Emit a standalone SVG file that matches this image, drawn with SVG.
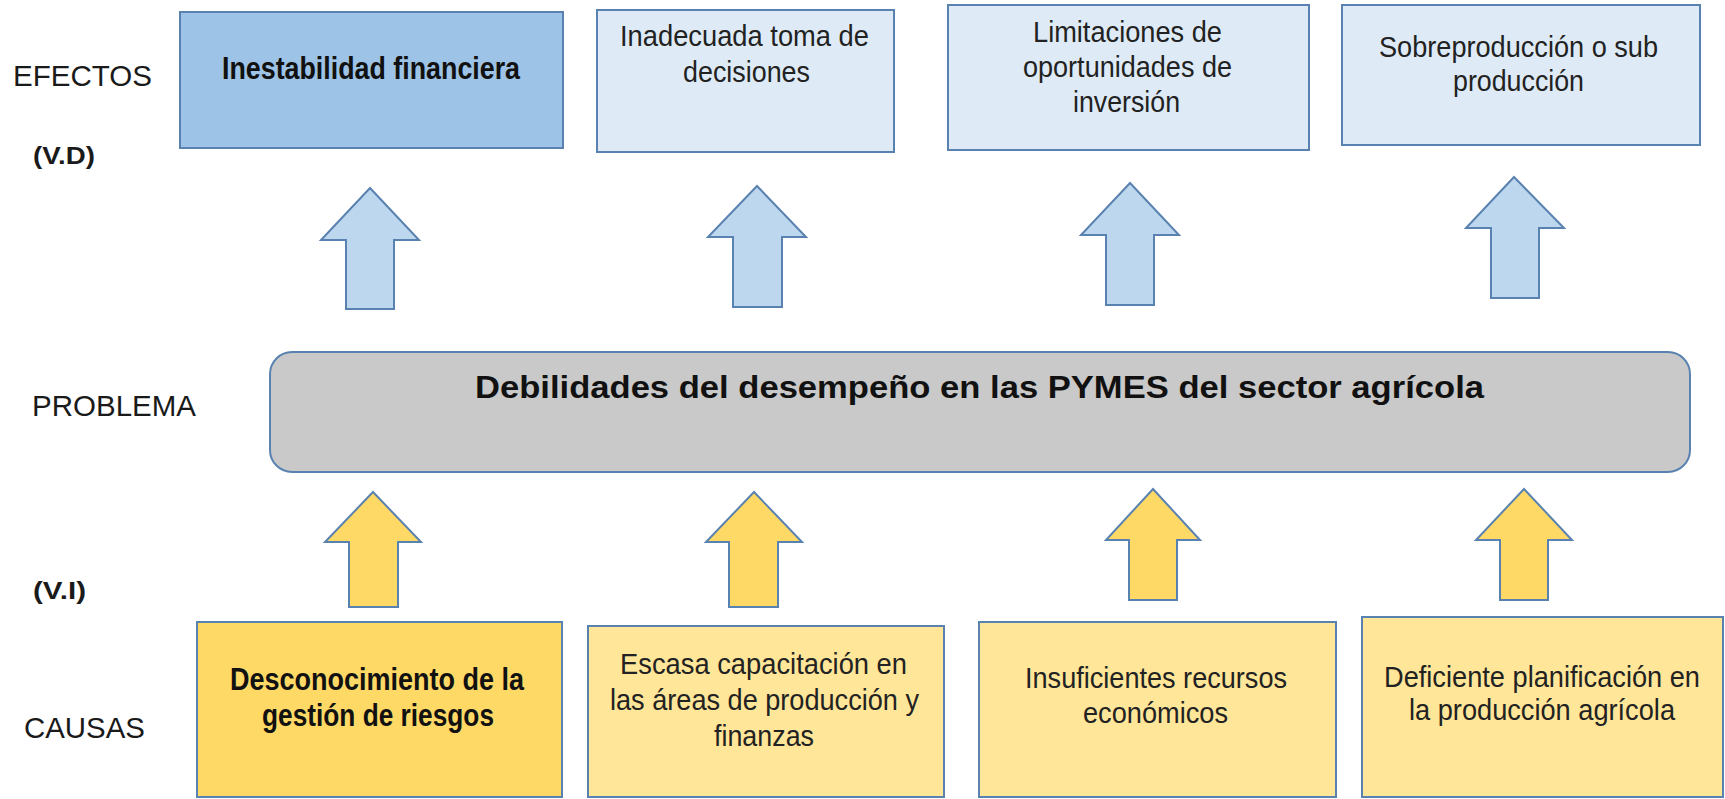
<svg xmlns="http://www.w3.org/2000/svg" width="1725" height="799" viewBox="0 0 1725 799">
<style>
.lbl{font-family:"Liberation Sans",Arial,sans-serif;font-size:30px;fill:#1a1a1a}
.vb{font-family:"Liberation Sans",Arial,sans-serif;font-size:24px;font-weight:bold;fill:#1a1a1a}
.t{font-family:"Liberation Sans",Arial,sans-serif;font-size:30px;fill:#222}
.tb{font-family:"Liberation Sans",Arial,sans-serif;font-size:31px;font-weight:bold;fill:#111}
.efx{fill:#DEEBF7;stroke:#5A82B0;stroke-width:2}
.efx1{fill:#9DC3E6;stroke:#5A82B0;stroke-width:2}
.cau{fill:#FFE699;stroke:#5A82B0;stroke-width:2}
.cau1{fill:#FFD966;stroke:#5A82B0;stroke-width:2}
.prob{fill:#C9C9C9;stroke:#5A82B0;stroke-width:2}
.ablue{fill:#BDD7EE;stroke:#5A82B0;stroke-width:2;stroke-linejoin:miter}
.ayel{fill:#FFD966;stroke:#5A82B0;stroke-width:2;stroke-linejoin:miter}
</style>
<rect width="1725" height="799" fill="#FFFFFF"/>

<g id="labels">
<text class="lbl" x="13" y="86" textLength="139" lengthAdjust="spacingAndGlyphs">EFECTOS</text>
<text class="vb" x="33" y="164" textLength="62" lengthAdjust="spacingAndGlyphs">(V.D)</text>
<text class="lbl" x="32" y="416" textLength="164" lengthAdjust="spacingAndGlyphs">PROBLEMA</text>
<text class="vb" x="33" y="599" textLength="53" lengthAdjust="spacingAndGlyphs">(V.I)</text>
<text class="lbl" x="24" y="738" textLength="121" lengthAdjust="spacingAndGlyphs">CAUSAS</text>
</g>

<g id="efecto1">
<rect class="efx1" x="180" y="12" width="383" height="136"/>
<text class="tb" x="222" y="79" textLength="298" lengthAdjust="spacingAndGlyphs">Inestabilidad financiera</text>
</g>
<g id="efecto2">
<rect class="efx" x="597" y="10" width="297" height="142"/>
<text class="t" x="620" y="46" textLength="249" lengthAdjust="spacingAndGlyphs">Inadecuada toma de</text>
<text class="t" x="683" y="82" textLength="127" lengthAdjust="spacingAndGlyphs">decisiones</text>
</g>
<g id="efecto3">
<rect class="efx" x="948" y="5" width="361" height="145"/>
<text class="t" x="1033" y="42" textLength="189" lengthAdjust="spacingAndGlyphs">Limitaciones de</text>
<text class="t" x="1023" y="77" textLength="209" lengthAdjust="spacingAndGlyphs">oportunidades de</text>
<text class="t" x="1073" y="112" textLength="107" lengthAdjust="spacingAndGlyphs">inversión</text>
</g>
<g id="efecto4">
<rect class="efx" x="1342" y="5" width="358" height="140"/>
<text class="t" x="1379" y="57" textLength="279" lengthAdjust="spacingAndGlyphs">Sobreproducción o sub</text>
<text class="t" x="1453" y="91" textLength="131" lengthAdjust="spacingAndGlyphs">producción</text>
</g>

<g id="problema">
<rect class="prob" x="270" y="352" width="1420" height="120" rx="22" ry="22"/>
<text class="tb" x="475" y="398" textLength="1009" lengthAdjust="spacingAndGlyphs">Debilidades del desempeño en las PYMES del sector agrícola</text>
</g>

<g id="causa1">
<rect class="cau1" x="197" y="622" width="365" height="175"/>
<text class="tb" x="230" y="690" textLength="294" lengthAdjust="spacingAndGlyphs">Desconocimiento de la</text>
<text class="tb" x="262" y="726" textLength="232" lengthAdjust="spacingAndGlyphs">gestión de riesgos</text>
</g>
<g id="causa2">
<rect class="cau" x="588" y="626" width="356" height="171"/>
<text class="t" x="620" y="674" textLength="287" lengthAdjust="spacingAndGlyphs">Escasa capacitación en</text>
<text class="t" x="610" y="710" textLength="309" lengthAdjust="spacingAndGlyphs">las áreas de producción y</text>
<text class="t" x="714" y="746" textLength="100" lengthAdjust="spacingAndGlyphs">finanzas</text>
</g>
<g id="causa3">
<rect class="cau" x="979" y="622" width="357" height="175"/>
<text class="t" x="1025" y="688" textLength="262" lengthAdjust="spacingAndGlyphs">Insuficientes recursos</text>
<text class="t" x="1083" y="723" textLength="145" lengthAdjust="spacingAndGlyphs">económicos</text>
</g>
<g id="causa4">
<rect class="cau" x="1362" y="617" width="361" height="180"/>
<text class="t" x="1384" y="687" textLength="316" lengthAdjust="spacingAndGlyphs">Deficiente planificación en</text>
<text class="t" x="1409" y="720" textLength="266" lengthAdjust="spacingAndGlyphs">la producción agrícola</text>
</g>

<g id="connectors">
<polygon class="ablue" points="370,188 419,240 394,240 394,309 346,309 346,240 321,240"/>
<polygon class="ablue" points="757,186 806,237 782,237 782,307 733,307 733,237 708,237"/>
<polygon class="ablue" points="1130,183 1179,235 1154,235 1154,305 1106,305 1106,235 1081,235"/>
<polygon class="ablue" points="1514,177 1564,228 1539,228 1539,298 1491,298 1491,228 1466,228"/>
<polygon class="ayel" points="373,492 421,542 398,542 398,607 349,607 349,542 325,542"/>
<polygon class="ayel" points="754,492 802,542 778,542 778,607 729,607 729,542 706,542"/>
<polygon class="ayel" points="1153,489 1200,540 1177,540 1177,600 1129,600 1129,540 1106,540"/>
<polygon class="ayel" points="1524,489 1572,540 1548,540 1548,600 1500,600 1500,540 1476,540"/>
</g>
</svg>
